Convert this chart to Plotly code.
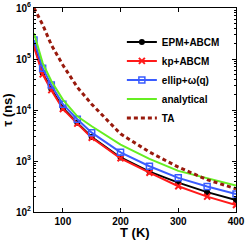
import plotly.graph_objects as go

T = [50, 65, 80, 100, 125, 150, 200, 250, 300, 350, 400]
epm_abcm = [1.88e5, 5.3e4, 2.57e4, 1.1e4, 5.6e3, 2.95e3, 1.17e3, 6.2e2, 376, 245, 172]
kp_abcm = [1.72e5, 5.0e4, 2.45e4, 1.05e4, 5.4e3, 2.85e3, 1.13e3, 5.9e2, 320, 200, 137]
ellip_wq = [2.36e5, 6.6e4, 3.1e4, 1.3e4, 6.6e3, 3.6e3, 1.48e3, 7.9e2, 467, 316, 225]
analytical = [3.2e5, 8.3e4, 3.7e4, 1.6e4, 7.5e3, 4.8e3, 2.1e3, 1.1e3, 640, 465, 330]
ta = [1.0e6, 4.7e5, 1.9e5, 7.6e4, 2.8e4, 1.3e4, 3.4e3, 1.5e3, 760, 430, 285]

names = ["EPM+ABCM", "kp+ABCM", "ellip+ω(q)", "analytical", "TA"]
ytick_vals = [1e2, 1e3, 1e4, 1e5, 1e6]
ytick_text = ["10<sup>2</sup>", "10<sup>3</sup>", "10<sup>4</sup>", "10<sup>5</sup>", "10<sup>6</sup>"]
xtick_vals = [100, 200, 300, 400]
minor_y = [m * 10 ** k for k in range(2, 6) for m in range(2, 10)]
x_title = "T (K)"
y_title = "τ (ns)"

fig = go.Figure()
fig.add_trace(go.Scatter(x=T, y=epm_abcm, name=names[0], mode="lines+markers",
                         line=dict(color="black", width=2),
                         marker=dict(symbol="circle", size=6, color="black")))
fig.add_trace(go.Scatter(x=T, y=kp_abcm, name=names[1], mode="lines+markers",
                         line=dict(color="#ff1a1a", width=2),
                         marker=dict(symbol="x-thin-open", size=6, color="#ff1a1a",
                                     line=dict(color="#ff1a1a", width=2))))
fig.add_trace(go.Scatter(x=T, y=ellip_wq, name=names[2], mode="lines+markers",
                         line=dict(color="#3a5cff", width=2),
                         marker=dict(symbol="square-open", size=6, color="#3a5cff",
                                     line=dict(color="#3a5cff", width=1.5))))
fig.add_trace(go.Scatter(x=T, y=analytical, name=names[3], mode="lines",
                         line=dict(color="#66ee22", width=2)))
fig.add_trace(go.Scatter(x=T, y=ta, name=names[4], mode="lines",
                         line=dict(color="#991a0d", width=3, dash="4px,3px")))

axis_common = dict(showline=True, linecolor="black", linewidth=1, mirror="ticks",
                   ticks="inside", ticklen=4, tickcolor="black", showgrid=False,
                   zeroline=False)

fig.update_xaxes(range=[50, 400], tickvals=xtick_vals, **axis_common)
fig.update_yaxes(type="log", range=[2, 6], tickvals=ytick_vals, ticktext=ytick_text,
                 title=dict(text=y_title, font=dict(size=13), standoff=2),
                 minor=dict(tickvals=minor_y, ticks="inside", ticklen=2, tickcolor="black"),
                 **axis_common)

fig.add_annotation(text=x_title, xref="paper", yref="paper", x=0.5, y=0,
                   xanchor="center", yanchor="top", yshift=-11, showarrow=False,
                   font=dict(size=13))

fig.update_layout(
    width=245, height=240,
    margin=dict(l=34, r=9, t=8, b=28, autoexpand=False),
    paper_bgcolor="white", plot_bgcolor="white",
    font=dict(family="Liberation Sans, Arial, sans-serif", size=10, color="black", weight="bold"),
    legend=dict(x=0.435, y=0.905, xanchor="left", yanchor="top",
                bgcolor="rgba(0,0,0,0)", borderwidth=0,
                font=dict(size=10), tracegroupgap=0),
    showlegend=True,
)

fig.write_html("out.html", config={"displayModeBar": False},
               post_script="document.body.style.margin='0';document.body.style.padding='0';")
